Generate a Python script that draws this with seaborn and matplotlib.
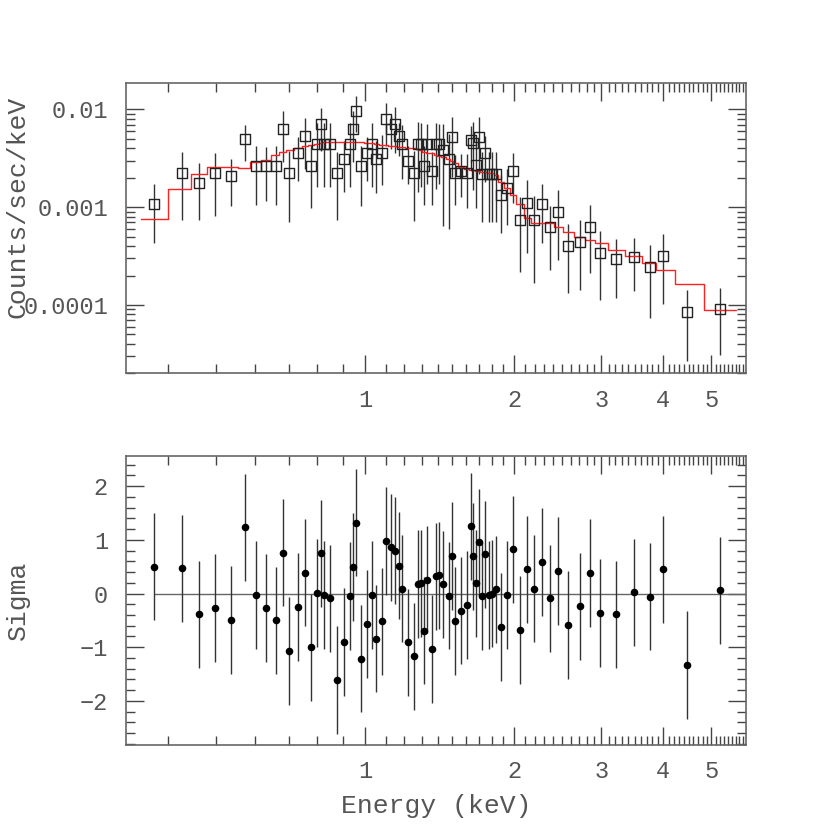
import matplotlib
matplotlib.use("Agg")
import matplotlib.pyplot as plt
import matplotlib.ticker as mticker
import numpy as np
import pandas as pd
import seaborn as sns

# Espectro: energia de cada canal (keV)
energia = [0.375, 0.426, 0.462, 0.498, 0.535, 0.572, 0.601, 0.630, 0.659, 0.682,
           0.702, 0.732, 0.755, 0.776, 0.798, 0.813, 0.826, 0.849, 0.878, 0.906,
           0.930, 0.943, 0.958, 0.979, 1.008, 1.030, 1.052, 1.081, 1.103, 1.125,
           1.147, 1.168, 1.188, 1.220, 1.256, 1.278, 1.294, 1.314, 1.335, 1.366,
           1.391, 1.407, 1.437, 1.474, 1.495, 1.516, 1.561, 1.603, 1.633, 1.653,
           1.676, 1.697, 1.719, 1.748, 1.778, 1.803, 1.834, 1.877, 1.936, 1.988,
           2.051, 2.125, 2.194, 2.275, 2.361, 2.447, 2.568, 2.719, 2.840, 2.983,
           3.210, 3.485, 3.754, 3.994, 4.472, 5.208]

# cuentas/seg/keV observadas
cuentas = [0.00107, 0.00222, 0.00178, 0.00222, 0.00208, 0.00493, 0.00265, 0.00265, 0.00265, 0.00625,
           0.00222, 0.00355, 0.00533, 0.00265, 0.00442, 0.00708, 0.00442, 0.00442, 0.00222, 0.00310,
           0.00442, 0.00625, 0.00973, 0.00265, 0.00355, 0.00442, 0.00310, 0.00355, 0.00791, 0.00625,
           0.00708, 0.00530, 0.00445, 0.00296, 0.00222, 0.00442, 0.00442, 0.00263, 0.00442, 0.00236,
           0.00442, 0.00442, 0.00384, 0.00310, 0.00525, 0.00222, 0.00236, 0.00222, 0.00485, 0.00449,
           0.00269, 0.00525, 0.00221, 0.00355, 0.00221, 0.00221, 0.00221, 0.00133, 0.00156, 0.00236,
           0.000738, 0.00111, 0.000738, 0.00107, 0.000630, 0.000885, 0.000403, 0.000443, 0.000630, 0.000342,
           0.000294, 0.000309, 0.000244, 0.000318, 0.0000840, 0.0000908]

# error de las cuentas
error_cuentas = [0.00064, 0.00148, 0.00104, 0.0014, 0.00106, 0.00198, 0.0016, 0.0015, 0.0016, 0.00336,
                 0.00151, 0.0017, 0.0029, 0.00166, 0.0028, 0.0033, 0.0028, 0.0028, 0.00148, 0.00167,
                 0.0028, 0.00337, 0.00389, 0.00161, 0.0017, 0.0028, 0.00169, 0.00187, 0.0037, 0.0023,
                 0.0035, 0.00198, 0.0025, 0.00122, 0.0015, 0.003, 0.0028, 0.00157, 0.0027, 0.00131,
                 0.0029, 0.0027, 0.0032, 0.0025, 0.0032, 0.00116, 0.0011, 0.00124, 0.00194, 0.0030,
                 0.0017, 0.00306, 0.0015, 0.00174, 0.0015, 0.0015, 0.0015, 0.00079, 0.0009, 0.00126,
                 0.00052, 0.00077, 0.00057, 0.00064, 0.0004, 0.0006, 0.00027, 0.0003, 0.00042, 0.00023,
                 0.000175, 0.00017, 0.00017, 0.000215, 0.000057, 0.00006]

# modelo ajustado (un valor por canal)
modelo = [0.000750, 0.001531, 0.002180, 0.002588, 0.002588, 0.002494, 0.002891, 0.003034, 0.003436, 0.003684,
          0.003837, 0.00399, 0.00421, 0.00431, 0.00447, 0.00457, 0.0046, 0.0046, 0.0046, 0.0046,
          0.0046, 0.0046, 0.0046, 0.0046, 0.00457, 0.00450, 0.00444, 0.00437, 0.00431, 0.00425,
          0.00421, 0.00417, 0.00415, 0.00407, 0.00399, 0.00393, 0.00388, 0.00370, 0.00361, 0.00355,
          0.00345, 0.00337, 0.00328, 0.00310, 0.00299, 0.00281, 0.00260, 0.00248, 0.00242, 0.00239,
          0.00237, 0.00234, 0.00231, 0.00228, 0.00226, 0.00223, 0.00213, 0.00182, 0.00156, 0.00133,
          0.00108, 0.00078, 0.00069, 0.00069, 0.00069, 0.000632, 0.000562, 0.000500, 0.000461, 0.000427,
          0.000364, 0.000318, 0.000266, 0.000226, 0.000162, 0.0000888]

# residuos en sigmas
residuo = [0.50, 0.47, -0.39, -0.27, -0.49, 1.23, -0.03, -0.27, -0.50, 0.76,
           -1.07, -0.25, 0.39, -1.00, 0.01, 0.75, -0.03, -0.09, -1.61, -0.90,
           -0.05, 0.49, 1.32, -1.21, -0.57, -0.03, -0.84, -0.52, 0.98, 0.86,
           0.80, 0.52, 0.09, -0.91, -1.17, 0.18, 0.19, -0.69, 0.26, -1.03,
           0.32, 0.34, 0.17, -0.04, 0.70, -0.51, -0.32, -0.21, 1.25, 0.69,
           0.19, 0.95, -0.05, 0.73, -0.03, 0.00, 0.08, -0.62, -0.03, 0.82,
           -0.68, 0.45, 0.09, 0.59, -0.09, 0.42, -0.59, -0.24, 0.38, -0.36,
           -0.39, 0.02, -0.06, 0.45, -1.33, 0.06]

ticks_x = [1, 2, 3, 4, 5]
ticks_y = [1e-4, 1e-3, 1e-2]
etiquetas_y = ["0.0001", "0.001", "0.01"]
ticks_sigma = [-2, -1, 0, 1, 2]
etiquetas_sigma = ["\u22122", "\u22121", "0", "1", "2"]

sns.set_style("ticks")
plt.rcParams['font.family'] = ['Liberation Mono', 'DejaVu Sans Mono']

gris = '#555555'
fuente_eje = dict(size=19, color=gris)

W = 830.0
fig = plt.figure(figsize=(8.3, 8.3), dpi=100)
ax1 = fig.add_axes([126 / W, (W - 373.3) / W, 620 / W, 290 / W])
ax2 = fig.add_axes([126 / W, (W - 745) / W, 620 / W, 289 / W])

xmin, xmax = 0.3286, 5.876

# bordes de los canales (punto medio logaritmico)
E = np.array(energia)
medios = np.sqrt(E[:-1] * E[1:])
bordes = np.concatenate([[E[0] ** 2 / medios[0]], medios, [E[-1] ** 2 / medios[-1]]])
df_modelo = pd.DataFrame({'E': bordes, 'flujo': modelo + [modelo[-1]]})

# Panel superior: espectro
ax1.set_xscale('log')
ax1.set_yscale('log')
ax1.errorbar(energia, cuentas, yerr=error_cuentas, fmt='none', ecolor='#333333', elinewidth=1, zorder=2)
sns.lineplot(data=df_modelo, x='E', y='flujo', drawstyle='steps-post', estimator=None,
             color='#ff2020', lw=1, ax=ax1, zorder=3)
sns.scatterplot(x=energia, y=cuentas, marker='s', s=52, facecolor='none', edgecolor='#222222',
                linewidth=1, ax=ax1, zorder=4)
ax1.collections[-1].set_facecolor('none')
ax1.set_ylim(2.0e-5, 0.0185)
ax1.yaxis.set_major_locator(mticker.FixedLocator(ticks_y))
ax1.yaxis.set_major_formatter(mticker.FixedFormatter(etiquetas_y))
ax1.yaxis.set_minor_locator(mticker.LogLocator(base=10, subs=np.arange(2, 10), numticks=20))
ax1.yaxis.set_minor_formatter(mticker.NullFormatter())

# Panel inferior: residuos
ax2.set_xscale('log')
ax2.hlines(0, energia[0], xmax, color='#666666', lw=1, zorder=1)
ax2.errorbar(energia, residuo, yerr=1, fmt='none', ecolor='#333333', elinewidth=1, zorder=2)
sns.scatterplot(x=energia, y=residuo, s=30, color='black', edgecolor='black', linewidth=0, ax=ax2, zorder=3)
ax2.set_ylim(-2.82, 2.56)
ax2.yaxis.set_major_locator(mticker.FixedLocator(ticks_sigma))
ax2.yaxis.set_major_formatter(mticker.FixedFormatter(etiquetas_sigma))
ax2.yaxis.set_minor_locator(mticker.MultipleLocator(0.2))

menores_x = [k / 10 for k in range(4, 59) if k % 10 != 0]
for ax in (ax1, ax2):
    ax.set_xlim(xmin, xmax)
    ax.xaxis.set_major_locator(mticker.FixedLocator(ticks_x))
    ax.xaxis.set_major_formatter(mticker.FixedFormatter([str(v) for v in ticks_x]))
    ax.xaxis.set_minor_locator(mticker.FixedLocator(menores_x))
    ax.xaxis.set_minor_formatter(mticker.NullFormatter())
    ax.tick_params(which='both', direction='in', top=True, right=True, color='#444444', width=1,
                   labelsize=17, labelcolor=gris)
    ax.tick_params(which='major', length=13)
    ax.tick_params(which='minor', length=6.5)
    ax.tick_params(axis='x', pad=11)
    ax.tick_params(axis='y', pad=13)
    ax.set_xlabel('')
    ax.set_ylabel('')
    for s in ax.spines.values():
        s.set_color('#666666')
        s.set_linewidth(1.2)

fig.text(18 / W, 1 - 207 / W, "Counts/sec/keV", rotation=90, ha='center', va='center', **fuente_eje)
fig.text(18 / W, 1 - 600 / W, "Sigma", rotation=90, ha='center', va='center', **fuente_eje)
fig.text(436 / W, 1 - 806 / W, "Energy (keV)", ha='center', va='center', **fuente_eje)

fig.savefig('out.png', dpi=100)
